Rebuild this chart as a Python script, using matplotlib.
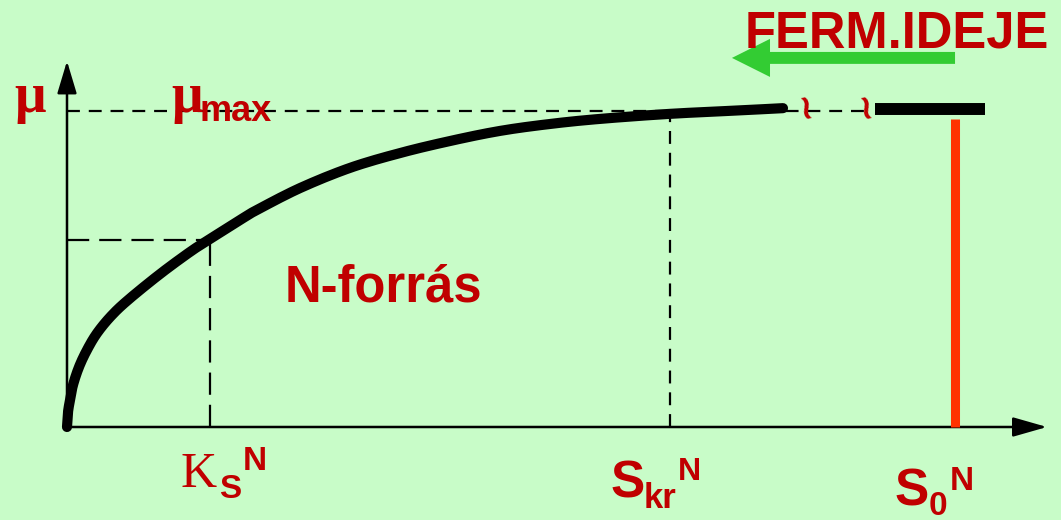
import numpy as np
import matplotlib
matplotlib.use("Agg")
from matplotlib import pyplot as plt

W_PX, H_PX = 1061, 520
BG_COLOR = '#C8FCC8'
TEXT_RED = '#C00000'
LINE_RED = '#FF3300'
ARROW_GREEN = '#33CC33'

# chart units: Ks = 1, mu_max = 1
S_KS = 1.0
S_KR = 4.22
S_0 = 6.21
MU_MAX = 1.0
MU_KS = 0.592

# growth curve
curve_s = [0.0, 0.007, 0.021, 0.042, 0.084, 0.140, 0.210, 0.308, 0.427, 0.650,
           0.860, 0.979, 1.231, 1.329, 1.629, 1.979, 2.329, 2.678, 3.028, 3.378,
           3.727, 4.217, 4.706, 5.007]
curve_mu = [0.0, 0.047, 0.085, 0.133, 0.190, 0.244, 0.297, 0.351, 0.402, 0.484,
            0.554, 0.589, 0.661, 0.687, 0.756, 0.820, 0.867, 0.905, 0.937, 0.959,
            0.975, 0.991, 1.002, 1.009]

# broken part of the plateau and the "fermentation time" arrow
dash_end_s = 5.615
plateau_s = [5.65, 6.42]
plateau_mu = 1.006
break_marks_s = [5.13, 5.55]
arrow_s = [6.21, 4.65]
arrow_mu = 1.168
axis_top_mu = 1.158
axis_end_s = 6.853

# mapping of chart units to the canvas
X0_PX, Y0_PX = 67, 427
PX_PER_S, PX_PER_MU = 143.0, 316.0


def put(x, y, s, size, family='Liberation Sans', weight='bold', ha='left', rot=0):
    # text placed in pixel coords (from top left), baseline aligned
    fig.text(x / W_PX, 1 - y / H_PX, s, fontsize=size, family=family,
             fontweight=weight, color=TEXT_RED, ha=ha, va='baseline',
             rotation=rot)


def smooth_line(xs, ys, steps=12):
    # catmull-rom through the read points, only so the stroke has no corners
    px = np.array(xs, dtype=float) * PX_PER_S
    py = np.array(ys, dtype=float) * PX_PER_MU
    px = np.concatenate([[2 * px[0] - px[1]], px, [2 * px[-1] - px[-2]]])
    py = np.concatenate([[2 * py[0] - py[1]], py, [2 * py[-1] - py[-2]]])
    out_x, out_y = [], []
    t = np.linspace(0, 1, steps, endpoint=False)
    for i in range(1, len(px) - 2):
        for arr, out in ((px, out_x), (py, out_y)):
            p0, p1, p2, p3 = arr[i - 1], arr[i], arr[i + 1], arr[i + 2]
            out.extend(0.5 * (2 * p1 + (-p0 + p2) * t
                              + (2 * p0 - 5 * p1 + 4 * p2 - p3) * t ** 2
                              + (-p0 + 3 * p1 - 3 * p2 + p3) * t ** 3))
    out_x.append(px[-2])
    out_y.append(py[-2])
    return np.array(out_x) / PX_PER_S, np.array(out_y) / PX_PER_MU


fig = plt.figure(figsize=(W_PX / 100, H_PX / 100), dpi=100, facecolor=BG_COLOR)
ax = fig.add_axes([0, 0, 1, 1])
ax.set_facecolor(BG_COLOR)
ax.set_xlim(-X0_PX / PX_PER_S, (W_PX - X0_PX) / PX_PER_S)
ax.set_ylim(-(H_PX - Y0_PX) / PX_PER_MU, Y0_PX / PX_PER_MU)
ax.axis('off')

# axes with arrow heads
ax.annotate('', xy=(0, axis_top_mu), xytext=(0, 0),
            arrowprops=dict(arrowstyle='-|>,head_length=1.0,head_width=0.3',
                            color='black', lw=1.8, shrinkA=0, shrinkB=0,
                            mutation_scale=20))
ax.annotate('', xy=(axis_end_s, 0), xytext=(0, 0),
            arrowprops=dict(arrowstyle='-|>,head_length=1.05,head_width=0.3',
                            color='black', lw=1.8, shrinkA=0, shrinkB=0,
                            mutation_scale=20))

# guide lines
ax.plot([0, dash_end_s], [MU_MAX, MU_MAX], color='black', lw=1.6,
        linestyle=(0, (5.8, 4.0)), zorder=2)
ax.plot([0, S_KS], [MU_KS, MU_KS], color='black', lw=1.6,
        linestyle=(0, (10, 4.5)), zorder=2)
ax.plot([S_KS, S_KS], [0, MU_KS], color='black', lw=1.6,
        linestyle=(0, (10, 4.5)), zorder=2)
ax.plot([S_KR, S_KR], [0, MU_MAX], color='black', lw=1.6,
        linestyle=(0, (5.8, 4.0)), zorder=2)

# the curve
sx, sy = smooth_line(curve_s, curve_mu)
ax.plot(sx, sy, color='black', lw=7.3, solid_capstyle='round',
        solid_joinstyle='round', zorder=4)
ax.plot(plateau_s, [plateau_mu, plateau_mu], color='black', lw=8.6,
        solid_capstyle='butt', zorder=4)
for s in break_marks_s:
    ax.text(s, plateau_mu, '~', fontsize=31, color=TEXT_RED, family='Liberation Sans',
            fontweight='bold', ha='center', va='center', rotation=-75, zorder=5)

# starting concentration
ax.plot([S_0, S_0], [0, 0.975], color=LINE_RED, lw=6.5,
        solid_capstyle='butt', zorder=3)

# fermentation time arrow
ax.annotate('', xy=(arrow_s[1], arrow_mu), xytext=(arrow_s[0], arrow_mu),
            arrowprops=dict(arrowstyle='simple,head_length=2.74,head_width=2.74,tail_width=0.86',
                            color=ARROW_GREEN, lw=0, shrinkA=0, shrinkB=0,
                            mutation_scale=10))

# labels
put(745, 47, 'FERM.IDEJE', 36.5)
put(285, 302, 'N-forrás', 36.5)

put(14, 112, 'μ', 40, family='Liberation Serif')
put(171, 112, 'μ', 40, family='Liberation Serif')
put(200, 121, 'max', 26)

put(181, 487, 'K', 36, family='Liberation Serif', weight='normal')
put(219, 498, 'S', 24)
put(243, 470, 'N', 24)

put(611, 497, 'S', 37)
put(644, 508, 'kr', 25)
put(678, 480, 'N', 23)

put(895, 505, 'S', 37)
put(929, 515, '0', 24)
put(950, 490, 'N', 24)

plt.savefig('out.png', dpi=100, facecolor=BG_COLOR)
plt.close('all')
